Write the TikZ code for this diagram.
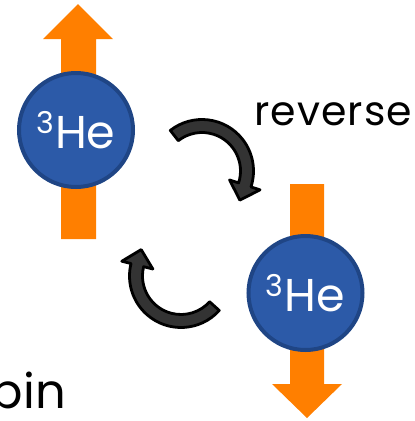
\documentclass[tikz,border=0pt]{standalone}
\usepackage{fontspec}
\setmainfont{Poppins}
\usetikzlibrary{calc}
\definecolor{spinorange}{HTML}{FF7F00}
\definecolor{atomfill}{HTML}{2C5AA8}
\definecolor{atomedge}{HTML}{1F4585}
\definecolor{curvfill}{HTML}{333333}
\tikzset{
  spinarrow/.style={fill=spinorange, draw=none},
  atom/.style={circle, fill=atomfill, draw=atomedge, line width=4pt, minimum size=114pt, inner sep=0pt, text=white},
  curv/.style={fill=curvfill, draw=black, line width=2.8pt, line join=round},
  word/.style={inner sep=0pt, text=black}
}
\newcommand{\helium}{{\fontsize{30}{30}\selectfont\raisebox{15pt}{3}}\kern1pt{\fontsize{46}{46}\selectfont He}}
\begin{document}
\begin{tikzpicture}[x=1pt,y=-1pt]
\useasboundingbox (0,0) rectangle (415,421);
% orange spin arrows
\fill[spinarrow] (61,239) -- (61,39) -- (43,39) -- (78,4) -- (113,39) -- (96,39) -- (96,239) -- cycle;
\fill[spinarrow] (290,184) -- (290,384) -- (272,384) -- (307,418) -- (342,384) -- (324,384) -- (324,184) -- cycle;
% atoms
\node[atom] (atomA) at (76,130) {\helium};
\node[atom] (atomB) at (305.5,293) {\helium};
% curved arrows
\begin{scope}[shift={(202,171)}]
\draw[curv] (-128:51.5) arc[start angle=-128,end angle=18,radius=51.5] -- (18:61)
  -- ([shift={(18:45)}]108:16) -- (18:29) -- (18:38.5)
  arc[start angle=18,end angle=-128,radius=38.5] -- cycle;
\end{scope}
\begin{scope}[shift={(181,276)}]
\draw[curv] (42:51.5) arc[start angle=42,end angle=194,radius=51.5] -- (194:61)
  -- ([shift={(194:45)}]284:16) -- (194:29) -- (194:38.5)
  arc[start angle=194,end angle=42,radius=38.5] -- cycle;
\end{scope}
% texts
\node[word, anchor=base west, font=\fontsize{41}{41}\selectfont\addfontfeature{LetterSpace=2.8}] (rev) at (254,125) {reverse};
\node[word, anchor=base east, font=\fontsize{48}{48}\selectfont] (spin) at (66,408) {spin};
\end{tikzpicture}
\end{document}
